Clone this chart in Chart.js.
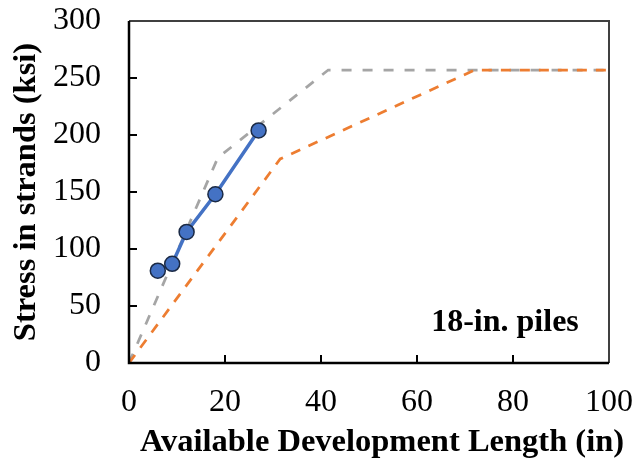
<!DOCTYPE html>
<html lang="en">
<head>
    <meta charset="UTF-8">
    <title>Stress in strands - 18-in. piles</title>
    <script src="https://cdn.jsdelivr.net/npm/chart.js"></script>
    <style>
        html, body { margin: 0; padding: 0; background: #fff; }
        #wrap { width: 636px; height: 467px; }
    </style>
</head>
<body>
<div id="wrap"><canvas id="stressChart" width="636" height="467"></canvas></div>

<script>
    // Measured points (in, ksi)
    const testLength = [6, 9, 12, 18, 27];
    const testStress = [81, 87, 115, 148, 204];

    // Predicted curves
    const grayLength = [0, 18.5, 41.5, 100];
    const grayStress = [0, 180, 257, 257];
    const orangeLength = [0, 31.5, 72, 100];
    const orangeStress = [0, 179, 257, 257];

    const xTicks = [0, 20, 40, 60, 80, 100];
    const yTicks = [0, 50, 100, 150, 200, 250, 300];

    const toPoints = (xs, ys) => xs.map((x, i) => ({ x: x, y: ys[i] }));

    const serif = '"Liberation Serif", "Times New Roman", serif';

    // Frame, inward tick marks, axis titles and the panel label
    const decorations = {
        id: 'decorations',
        afterDraw(chart) {
            const ctx = chart.ctx;
            const a = chart.chartArea;
            const xs = chart.scales.x, ys = chart.scales.y;
            ctx.save();
            ctx.strokeStyle = '#000';
            ctx.lineWidth = 2;
            xTicks.slice(1, -1).forEach(v => {
                const px = xs.getPixelForValue(v);
                ctx.beginPath(); ctx.moveTo(px, a.bottom); ctx.lineTo(px, a.bottom - 8); ctx.stroke();
            });
            yTicks.slice(1, -1).forEach(v => {
                const py = ys.getPixelForValue(v);
                ctx.beginPath(); ctx.moveTo(a.left, py); ctx.lineTo(a.left + 8, py); ctx.stroke();
            });
            ctx.strokeStyle = '#404040';
            ctx.beginPath();
            ctx.moveTo(a.left, a.top); ctx.lineTo(a.right, a.top); ctx.lineTo(a.right, a.bottom);
            ctx.stroke();
            ctx.strokeStyle = '#000';
            ctx.lineWidth = 2.5;
            ctx.beginPath();
            ctx.moveTo(a.left, a.top); ctx.lineTo(a.left, a.bottom); ctx.lineTo(a.right, a.bottom);
            ctx.stroke();

            ctx.fillStyle = '#000';
            ctx.font = 'bold 32.5px ' + serif;
            ctx.textAlign = 'center';
            ctx.textBaseline = 'middle';
            ctx.fillText('Available Development Length (in)', 382, 443);
            ctx.save();
            ctx.translate(27, 192);
            ctx.rotate(-Math.PI / 2);
            ctx.fillText('Stress in strands (ksi)', 0, 0);
            ctx.restore();
            ctx.font = 'bold 32px ' + serif;
            ctx.fillText('18-in. piles', 505, 323);
            ctx.restore();
        }
    };

    new Chart(document.getElementById('stressChart'), {
        type: 'line',
        data: {
            datasets: [{
                data: toPoints(testLength, testStress),
                borderColor: '#4472c4',
                borderWidth: 3.5,
                backgroundColor: '#4472c4',
                pointRadius: 7.5,
                pointBorderColor: '#1b2a45',
                pointBorderWidth: 1.5
            }, {
                data: toPoints(orangeLength, orangeStress),
                borderColor: '#ed7d31',
                borderWidth: 2.75,
                borderDash: [10, 9],
                pointRadius: 0
            }, {
                data: toPoints(grayLength, grayStress),
                borderColor: '#a5a5a5',
                borderWidth: 2.75,
                borderDash: [10, 11],
                pointRadius: 0
            }]
        },
        options: {
            responsive: false,
            animation: false,
            layout: { padding: { left: 0, top: 21, right: 27, bottom: 0 } },
            plugins: { legend: { display: false }, tooltip: { enabled: false } },
            scales: {
                x: {
                    type: 'linear',
                    min: 0, max: 100,
                    afterFit: s => { s.height = 104; s.paddingLeft = 0; s.paddingRight = 0; },
                    afterBuildTicks: s => { s.ticks = xTicks.map(v => ({ value: v })); },
                    grid: { display: false },
                    border: { display: false },
                    ticks: { color: '#000', font: { family: serif, size: 32 }, padding: 12, maxRotation: 0 }
                },
                y: {
                    min: 0, max: 300,
                    afterFit: s => { s.width = 129; s.paddingTop = 0; s.paddingBottom = 0; },
                    afterBuildTicks: s => { s.ticks = yTicks.map(v => ({ value: v })); },
                    grid: { display: false },
                    border: { display: false },
                    ticks: { color: '#000', font: { family: serif, size: 32 }, padding: 20 }
                }
            }
        },
        plugins: [decorations]
    });
</script>
</body>
</html>
